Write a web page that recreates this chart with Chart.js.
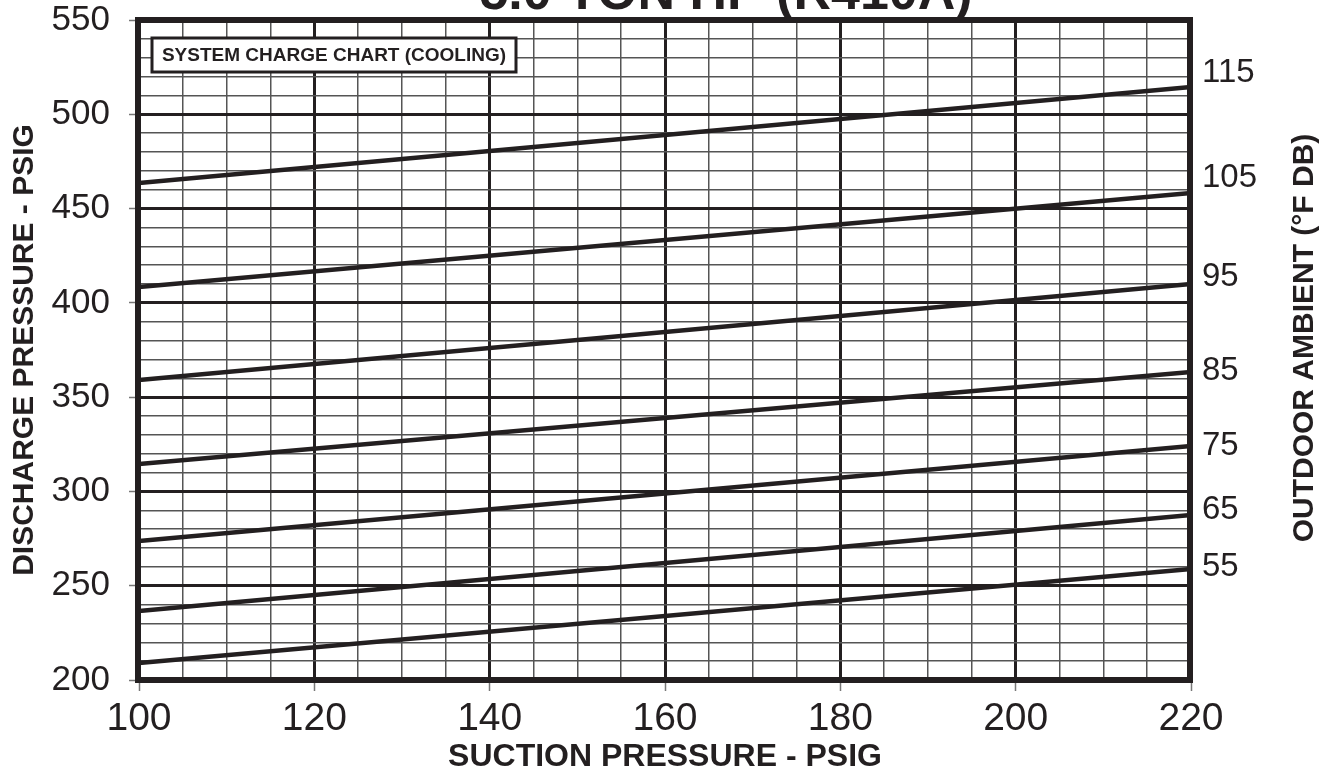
<!DOCTYPE html>
<html>
<head>
<meta charset="utf-8">
<title>System Charge Chart</title>
<script src="https://cdn.jsdelivr.net/npm/chart.js@4.4.1/dist/chart.umd.min.js"></script>
<style>
  body { margin: 0; background: #fff; }
  #wrap { width: 1332px; height: 778px; position: relative; }
</style>
</head>
<body>
<div id="wrap"><canvas id="chargeChart"></canvas></div>
<script>
// suction pressure (psig) where each ambient line starts / ends
const suctionPsig = [100, 220];

// discharge pressure (psig) for each outdoor ambient line
const ambient115 = [463.6, 514.5];
const ambient105 = [408.4, 458.3];
const ambient95 = [359.1, 410.0];
const ambient85 = [314.5, 363.3];
const ambient75 = [273.7, 324.1];
const ambient65 = [236.6, 287.5];
const ambient55 = [209.0, 258.9];

// right side labels and the discharge value they sit at
const ambientLabels = ['115', '105', '95', '85', '75', '65', '55'];
const ambientLabelPos = [522, 466, 414, 364, 324, 290, 260];

const chartTitle = '5.0 TON HP (R410A)';
const boxText = 'SYSTEM CHARGE CHART (COOLING)';

const INK = '#231f20';
const FONT = "'Liberation Sans', Arial, Helvetica, sans-serif";
const NARROW = "'Liberation Sans Narrow', 'Liberation Sans', Arial, sans-serif";

function makeLine(label, values) {
    return {
        label: label,
        data: suctionPsig.map((x, i) => ({ x: x, y: values[i] })),
        borderColor: INK,
        borderWidth: 4.5,
        pointRadius: 0,
        fill: false,
        tension: 0
    };
}

// keep the plot frame where the reference has it (labels may hang over)
function fixVertical(width) {
    return s => {
        s.width = width;
        s.paddingTop = 0;
        s.paddingBottom = 0;
    };
}

// title, frame, note box and right axis title
const frameAndText = {
    id: 'frameAndText',
    beforeDraw(chart) {
        const ctx = chart.ctx;
        ctx.save();
        ctx.fillStyle = INK;
        ctx.font = 'bold 52px ' + FONT;
        ctx.textAlign = 'center';
        ctx.textBaseline = 'alphabetic';
        ctx.fillText(chartTitle, 726, 9);
        ctx.restore();
    },
    afterDatasetsDraw(chart) {
        const { ctx, chartArea: a } = chart;
        ctx.save();
        ctx.strokeStyle = INK;
        ctx.lineWidth = 6;
        ctx.strokeRect(a.left - 1, a.top, a.right - a.left, a.bottom - a.top);

        // note box
        const bx = a.left + 13, by = a.top + 18, bw = 364, bh = 34;
        ctx.fillStyle = '#fff';
        ctx.fillRect(bx, by, bw, bh);
        ctx.lineWidth = 3;
        ctx.strokeRect(bx, by, bw, bh);
        ctx.fillStyle = INK;
        ctx.font = 'bold 19px ' + FONT;
        ctx.textAlign = 'center';
        ctx.textBaseline = 'middle';
        ctx.fillText(boxText, bx + bw / 2, by + bh / 2 + 1);
        ctx.restore();
    },
    afterDraw(chart) {
        const { ctx, chartArea: a } = chart;
        ctx.save();
        ctx.translate(chart.width - 27, (a.top + a.bottom) / 2 - 12);
        ctx.rotate(-Math.PI / 2);
        ctx.fillStyle = INK;
        ctx.font = 'bold 30px ' + FONT;
        ctx.textAlign = 'center';
        ctx.textBaseline = 'middle';
        ctx.fillText('OUTDOOR AMBIENT (°F DB)', 0, 0);
        ctx.restore();
    }
};

const isMajorX = v => v % 20 === 0;
const isMajorY = v => v % 50 === 0;

const ctx = document.getElementById('chargeChart').getContext('2d');
new Chart(ctx, {
    type: 'line',
    data: {
        datasets: [
            makeLine('115', ambient115),
            makeLine('105', ambient105),
            makeLine('95', ambient95),
            makeLine('85', ambient85),
            makeLine('75', ambient75),
            makeLine('65', ambient65),
            makeLine('55', ambient55)
        ]
    },
    options: {
        responsive: true,
        maintainAspectRatio: false,
        animation: false,
        layout: { padding: { top: 20, left: 0, right: 0, bottom: 0 } },
        plugins: {
            legend: { display: false },
            tooltip: { enabled: false }
        },
        scales: {
            x: {
                type: 'linear',
                min: 100,
                max: 220,
                afterFit: s => { s.height = 98; },
                ticks: {
                    stepSize: 5,
                    autoSkip: false,
                    maxRotation: 0,
                    padding: 5,
                    color: INK,
                    font: { size: 39, family: NARROW },
                    callback: v => isMajorX(v) ? v : ''
                },
                grid: {
                    color: c => isMajorX(c.tick.value) ? INK : '#555',
                    lineWidth: c => isMajorX(c.tick.value) ? 3 : 1.5,
                    tickLength: 11,
                    tickWidth: 1.5,
                    tickColor: c => isMajorX(c.tick.value) ? '#777' : 'rgba(0,0,0,0)'
                },
                border: { display: false },
                title: {
                    display: true,
                    text: 'SUCTION PRESSURE - PSIG',
                    color: INK,
                    font: { size: 32, weight: 'bold', family: FONT },
                    padding: { top: 0, bottom: 2 }
                }
            },
            y: {
                min: 200,
                max: 550,
                afterFit: fixVertical(139),
                ticks: {
                    stepSize: 10,
                    autoSkip: false,
                    padding: 19,
                    color: INK,
                    font: { size: 35, family: FONT },
                    callback: v => isMajorY(v) ? v : ''
                },
                grid: {
                    color: c => isMajorY(c.tick.value) ? INK : '#555',
                    lineWidth: c => isMajorY(c.tick.value) ? 3 : 1.5,
                    tickLength: 10,
                    tickWidth: 1.5,
                    tickColor: c => isMajorY(c.tick.value) ? '#777' : 'rgba(0,0,0,0)'
                },
                border: { display: false },
                title: {
                    display: true,
                    text: 'DISCHARGE PRESSURE - PSIG',
                    color: INK,
                    font: { size: 30, weight: 'bold', family: FONT },
                    padding: { top: 7, bottom: 0 }
                }
            },
            y2: {
                position: 'right',
                min: 200,
                max: 550,
                afterFit: fixVertical(141),
                afterBuildTicks: s => { s.ticks = ambientLabelPos.map(v => ({ value: v })); },
                ticks: {
                    autoSkip: false,
                    padding: 11,
                    color: INK,
                    font: { size: 33, family: FONT },
                    callback: (v, i) => ambientLabels[i]
                },
                grid: { drawOnChartArea: false, drawTicks: false },
                border: { display: false }
            }
        }
    },
    plugins: [frameAndText]
});
</script>
</body>
</html>
